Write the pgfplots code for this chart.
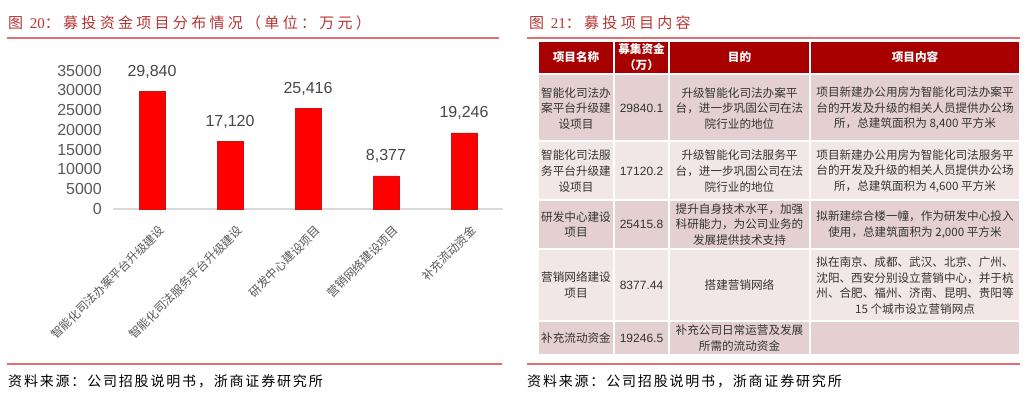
\documentclass[border=0pt]{standalone}
\usepackage{fontspec}
\setmainfont{Liberation Sans}
\newfontfamily\cjk{Noto Sans CJK SC}
\newfontfamily\cjkt{Noto Sans CJK SC}[LetterSpace=22]
\newfontfamily\cjks{Noto Sans CJK SC}[LetterSpace=13]
\newfontfamily\sernum{Liberation Serif}
\usepackage{pgfplots}
\pgfplotsset{compat=1.18}

\definecolor{titlered}{RGB}{184,52,52}
\definecolor{rulered}{RGB}{224,112,112}
\definecolor{hdrred}{RGB}{168,0,0}
\definecolor{rowdark}{RGB}{228,208,208}
\definecolor{rowlight}{RGB}{242,231,231}
\definecolor{txtgray}{RGB}{89,89,89}
\definecolor{bodytxt}{RGB}{51,51,51}
\definecolor{axisgray}{RGB}{217,217,217}
\definecolor{baredge}{RGB}{200,20,20}

\begin{document}
\begin{tikzpicture}
\useasboundingbox (0,0) rectangle (1024pt,-405pt);
\fill[white] (0,0) rectangle (1024pt,-405pt);

\begin{scope}[x=1pt,y=-1pt,
  tb/.style={align=center, text=bodytxt, inner sep=0pt, font=\cjk\fontsize{11.6}{15.6}\selectfont},
  hd/.style={align=center, text=white, inner sep=0pt, font=\cjk\bfseries\fontsize{11.6}{16}\selectfont},
  num/.style={text=bodytxt, inner sep=0pt, font=\fontsize{12}{14}\selectfont}]
% titles and rules
\node[anchor=west, inner sep=0pt, text=titlered, font=\cjkt\fontsize{15}{15}\selectfont] at (8,23)
  {图 {\sernum 20}：募投资金项目分布情况（单位：万元）};
\node[anchor=west, inner sep=0pt, text=titlered, font=\cjkt\fontsize{15}{15}\selectfont] at (529,23)
  {图 {\sernum 21}：募投项目内容};
\draw[rulered, line width=1.8pt] (7,38) -- (499,38);
\draw[rulered, line width=1.8pt] (527,38) -- (1020,38);
\draw[rulered, line width=1.8pt] (7,364) -- (502,364);
\draw[rulered, line width=1.8pt] (527,364) -- (1020,364);
\node[anchor=west, inner sep=0pt, text=black, font=\cjks\fontsize{14}{14}\selectfont] at (8,381)
  {资料来源：公司招股说明书，浙商证券研究所};
\node[anchor=west, inner sep=0pt, text=black, font=\cjks\fontsize{14}{14}\selectfont] at (527,381)
  {资料来源：公司招股说明书，浙商证券研究所};

% table cells
\foreach \ya/\yb/\c in {42/73/hdrred, 75/140/rowdark, 142/199/rowlight, 201/248/rowdark, 250/320/rowlight, 322/354/rowdark}{
  \foreach \xa/\xb in {539/613, 615/668, 670/809, 811/1019}{
    \fill[\c] (\xa,\ya) rectangle (\xb,\yb);
  }
}
% header
\node[hd] at (576,57.5) {项目名称};
\node[hd] at (641.5,57.5) {募集资金\\（万）};
\node[hd] at (739.5,57.5) {目的};
\node[hd] at (915,57.5) {项目内容};
% row 1
\node[tb] at (576,108.5) {智能化司法办\\案平台升级建\\设项目};
\node[num] at (641.5,108.5) {29840.1};
\node[tb] at (739.5,108.5) {升级智能化司法办案平\\台，进一步巩固公司在法\\院行业的地位};
\node[tb] at (915,108.5) {项目新建办公用房为智能化司法办案平\\台的开发及升级的相关人员提供办公场\\所，总建筑面积为 8,400 平方米};
% row 2
\node[tb] at (576,171) {智能化司法服\\务平台升级建\\设项目};
\node[num] at (641.5,171) {17120.2};
\node[tb] at (739.5,171) {升级智能化司法服务平\\台，进一步巩固公司在法\\院行业的地位};
\node[tb] at (915,171) {项目新建办公用房为智能化司法服务平\\台的开发及升级的相关人员提供办公场\\所，总建筑面积为 4,600 平方米};
% row 3
\node[tb] at (576,224.5) {研发中心建设\\项目};
\node[num] at (641.5,224.5) {25415.8};
\node[tb] at (739.5,224.5) {提升自身技术水平，加强\\科研能力，为公司业务的\\发展提供技术支持};
\node[tb] at (915,224.5) {拟新建综合楼一幢，作为研发中心投入\\使用，总建筑面积为 2,000 平方米};
% row 4
\node[tb] at (576,285) {营销网络建设\\项目};
\node[num] at (641.5,285) {8377.44};
\node[tb] at (739.5,285) {搭建营销网络};
\node[tb] at (915,285.5) {拟在南京、成都、武汉、北京、广州、\\沈阳、西安分别设立营销中心，并于杭\\州、合肥、福州、济南、昆明、贵阳等\\15 个城市设立营销网点};
% row 5
\node[tb] at (576,338) {补充流动资金};
\node[num] at (641.5,338) {19246.5};
\node[tb] at (739.5,338) {补充公司日常运营及发展\\所需的流动资金};
\end{scope}

\begin{axis}[
  at={(113pt,-209pt)}, anchor=south west,
  scale only axis, width=390pt, height=138.4pt,
  clip=false,
  xmin=-0.5, xmax=4.5, ymin=0, ymax=35000,
  xtick={0,1,2,3,4},
  xticklabels={智能化司法办案平台升级建设,智能化司法服务平台升级建设,研发中心建设项目,营销网络建设项目,补充流动资金},
  ytick={0,5000,...,35000},
  scaled y ticks=false,
  axis x line=bottom, axis y line=left,
  x axis line style={draw=axisgray, line width=1.6pt, -},
  y axis line style={draw=none},
  major tick length=0pt,
  yticklabel style={/pgf/number format/1000 sep={}, /pgf/number format/assume math mode=true,
    font=\fontsize{16}{16}\selectfont, text=txtgray, anchor=east, inner sep=0pt, xshift=-11pt},
  xticklabel style={xshift=10pt, yshift=-19pt, rotate=45, anchor=east, inner sep=0pt,
    font=\cjk\fontsize{11.8}{12}\selectfont, text=txtgray},
  ybar, bar width=26pt,
  nodes near coords={\pgfmathprintnumber[fixed,precision=0,1000 sep={,},assume math mode=true]{\pgfplotspointmeta}},
  nodes near coords style={font=\fontsize{16}{16}\selectfont, text=bodytxt!90!white, anchor=base, yshift=15pt, inner sep=0pt},
]
\addplot[fill=red, draw=baredge, line width=0.6pt] coordinates {
  (0,29840) (1,17120) (2,25416) (3,8377) (4,19246)
};
\end{axis}
\end{tikzpicture}
\end{document}
